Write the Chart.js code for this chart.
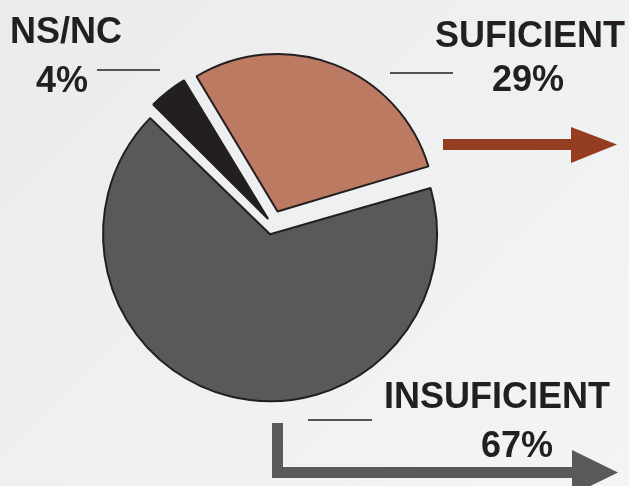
<!DOCTYPE html>
<html>
<head>
<meta charset="utf-8">
<script src="https://cdn.jsdelivr.net/npm/chart.js@4/dist/chart.umd.min.js"></script>
<style>
  html, body { margin: 0; padding: 0; }
  body {
    width: 629px; height: 486px; overflow: hidden;
    background: linear-gradient(135deg, #ebebec 0%, #eff0f1 50%, #f3f4f5 100%);
  }
  #wrap { position: relative; width: 629px; height: 486px; }
</style>
</head>
<body>
<div id="wrap"><canvas id="c" width="629" height="486"></canvas></div>
<script>
const categories = ["SUFICIENT", "INSUFICIENT", "NS/NC"];
const values = [29, 67, 4];
const valueLabels = ["29%", "67%", "4%"];
const sliceColors = ["#bd7a62", "#58595b", "#231f20"];

// Decorations: labels, leader lines and arrows
const decorPlugin = {
  id: 'decor',
  afterDraw(chart) {
    const ctx = chart.ctx;
    ctx.save();
    ctx.fillStyle = '#231f20';
    ctx.font = 'bold 36px "Liberation Sans", Arial, sans-serif';
    ctx.textAlign = 'center';
    ctx.textBaseline = 'alphabetic';
    // NS/NC
    ctx.fillText(categories[2], 66, 43);
    ctx.fillText(valueLabels[2], 62, 92);
    // SUFICIENT
    ctx.fillText(categories[0], 530, 47);
    ctx.fillText(valueLabels[0], 528, 91);
    // INSUFICIENT
    ctx.fillText(categories[1], 497, 408);
    ctx.fillText(valueLabels[1], 517, 457);

    // leader lines
    ctx.strokeStyle = '#231f20';
    ctx.lineWidth = 1.6;
    ctx.beginPath();
    ctx.moveTo(97, 70); ctx.lineTo(160, 70);
    ctx.moveTo(390, 73); ctx.lineTo(453, 73);
    ctx.moveTo(308, 420); ctx.lineTo(372, 420);
    ctx.stroke();

    // brown arrow
    ctx.fillStyle = '#953d20';
    ctx.fillRect(443, 139, 129, 11);
    ctx.beginPath();
    ctx.moveTo(571, 127); ctx.lineTo(617, 144.5); ctx.lineTo(571, 163); ctx.closePath();
    ctx.fill();

    // gray arrow
    ctx.fillStyle = '#58595b';
    ctx.fillRect(272, 423, 11, 55);
    ctx.fillRect(272, 467, 302, 11);
    ctx.beginPath();
    ctx.moveTo(572, 450); ctx.lineTo(618, 472.5); ctx.lineTo(572, 495); ctx.closePath();
    ctx.fill();
    ctx.restore();
  }
};

new Chart(document.getElementById('c'), {
  type: 'pie',
  data: {
    labels: categories,
    datasets: [{
      data: values,
      backgroundColor: sliceColors,
      borderColor: '#231f20',
      borderWidth: 2,
      offset: [56, 40, 28],
      hoverOffset: 0
    }]
  },
  options: {
    responsive: false,
    animation: false,
    rotation: -31,
    radius: 157,
    layout: { padding: { left: 0, right: 84, top: 0, bottom: 37 } },
    plugins: {
      legend: { display: false },
      tooltip: { enabled: false }
    },
    events: []
  },
  plugins: [decorPlugin]
});
</script>
</body>
</html>
